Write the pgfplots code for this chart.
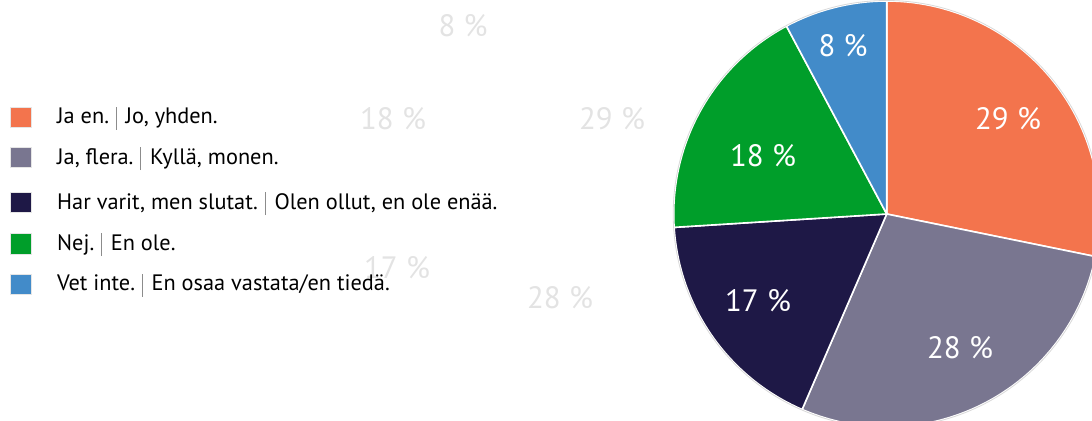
\documentclass[border=0pt]{standalone}
\usepackage{fontspec}
\setmainfont{PT Sans}
\usepackage{pgfplots}
\usepackage{pgfplotstable}
\pgfplotsset{compat=1.18}

\definecolor{cOrange}{HTML}{F3744D}
\definecolor{cGrey}{HTML}{797690}
\definecolor{cNavy}{HTML}{1E1846}
\definecolor{cGreen}{HTML}{009E2A}
\definecolor{cBlue}{HTML}{428BC9}

% slice shares (as drawn), printed label, colour, label centre in px
\pgfplotstableread[col sep=comma]{
share,label,col,lx,ly
28.2,29,cOrange,1008,118
28.3,28,cGrey,960,347
17.5,17,cNavy,758,300
18.2,18,cGreen,763,155
7.8,8,cBlue,843,45
}\slices

\newcommand{\sep}{\hspace{0.3em}\textcolor{black!45}{\rule[-0.27em]{0.5pt}{1.03em}}\hspace{0.42em}}

\begin{document}
\begin{tikzpicture}
\begin{axis}[
    scale only axis,
    width=1092bp, height=420bp,
    xmin=0, xmax=1092, ymin=0, ymax=420,
    hide axis,
    clip=true,
]
\pgfplotsextra{
  % pie
  \xdef\angacc{90}
  \foreach \i in {0,...,4}{
    \pgfplotstablegetelem{\i}{share}\of\slices \let\sh\pgfplotsretval
    \pgfplotstablegetelem{\i}{col}\of\slices \let\cc\pgfplotsretval
    \pgfmathsetmacro\aend{\angacc-3.6*\sh}
    \fill[fill=\cc, draw=white, line width=1.6bp, line join=round]
      (axis cs:886.7,206) -- ++(\angacc:213bp)
      arc[start angle=\angacc, end angle=\aend, radius=213bp] -- cycle;
    \xdef\angacc{\aend}
  }
  \draw[black!15, line width=0.8bp] (axis cs:886.7,206) circle[radius=213.5bp];
  % value labels
  \foreach \i in {0,...,4}{
    \pgfplotstablegetelem{\i}{label}\of\slices \let\lb\pgfplotsretval
    \pgfplotstablegetelem{\i}{lx}\of\slices \let\lx\pgfplotsretval
    \pgfplotstablegetelem{\i}{ly}\of\slices \let\ly\pgfplotsretval
    \node[anchor=base, white, inner sep=0pt, font=\fontsize{31}{36}\selectfont]
      at (axis cs:\lx,{420-\ly-11.5}) {\lb\ \%};
  }
  % faint ghost labels
  \foreach \t/\x/\y in {8/463/25, 18/393/118, 29/612/118, 17/397/267, 28/560/297}{
    \node[anchor=base, black!11, inner sep=0pt, font=\fontsize{31}{36}\selectfont]
      at (axis cs:\x,{420-\y-11.5}) {\t\ \%};
  }
  % legend
  \foreach \c/\y/\t in {
      cOrange/117.3/{Ja en.\sep Jo, yhden.},
      cGrey/157.5/{Ja, flera.\sep Kyllä, monen.},
      cNavy/202.5/{Har varit, men slutat.\sep Olen ollut, en ole enää.},
      cGreen/243.7/{Nej.\sep En ole.},
      cBlue/284.3/{Vet inte.\sep En osaa vastata/en tiedä.}}{
    \fill[fill=\c, draw=black!10, line width=0.8bp]
      (axis cs:10,{420-\y-10.3}) rectangle (axis cs:31,{420-\y+10.3});
    \node[anchor=base west, inner sep=0pt, font=\fontsize{22.4}{26}\selectfont]
      at (axis cs:57,{420-\y-6.5}) {\t};
  }
}
\end{axis}
\pgfresetboundingbox
\path (current axis.south west) rectangle (current axis.north east);
\end{tikzpicture}
\end{document}
